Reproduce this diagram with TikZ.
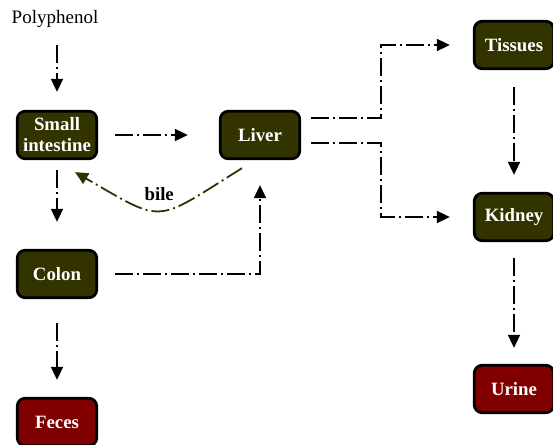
\documentclass[tikz,border=0pt]{standalone}
\usepackage{fontspec}
\setmainfont{Liberation Serif}
\usetikzlibrary{arrows.meta}
\definecolor{organfill}{HTML}{333300}
\definecolor{wastefill}{HTML}{800000}
\begin{document}
\begin{tikzpicture}[x=1pt,y=1pt,>={Triangle[length=13pt,width=12pt]},
    organ/.style={draw=black,line width=2.8pt,fill=organfill,rounded corners=8pt,
      minimum width=79.5pt,minimum height=47.5pt,text=white,align=center,
      font=\bfseries\fontsize{18.8}{21}\selectfont},
    waste/.style={organ,fill=wastefill},
    flow/.style={->,line width=1.8pt,dash pattern=on 18pt off 4pt on 2pt off 4pt}]
    \useasboundingbox (0,0) rectangle (553,444);
    \node[font=\fontsize{19}{21}\selectfont] (poly) at (55,425) {Polyphenol};
    \node[organ] (si) at (57,309) {Small\\intestine};
    \node[organ] (liver) at (260,309) {Liver};
    \node[organ] (colon) at (57,170) {Colon};
    \node[waste] (feces) at (57,22) {Feces};
    \node[organ] (tissues) at (514,399) {Tissues};
    \node[organ] (kidney) at (514,227) {Kidney};
    \node[waste] (urine) at (514,55) {Urine};
    \coordinate (split) at (381,309);
    \draw[flow,shorten <=14pt,shorten >=18pt] (poly.south -| si.north) -- (si.north);
    \draw[flow,shorten <=17pt,shorten >=31pt] (si) -- (liver);
    \draw[flow,shorten <=10pt,shorten >=27pt] (si) -- (colon);
    \draw[flow,shorten <=24pt,shorten >=17pt] (colon) -- (feces);
    \draw[flow] ([xshift=17pt]colon.east) -| ([yshift=-25pt]liver.south);
    \draw[flow,color=organfill] ([xshift=-18pt,yshift=-8pt]liver.south)
      to[out=212,in=-30,looseness=1.6]
      node[midway,above=6pt,text=black,font=\bfseries\fontsize{18.8}{21}\selectfont] (bilelabel) {bile}
      ([xshift=18pt,yshift=-12pt]si.south);
    \draw[flow] ([xshift=10pt,yshift=17pt]liver.east) -| (split |- tissues) -- ([xshift=-23pt]tissues.west);
    \draw[flow] ([xshift=10pt,yshift=-8pt]liver.east) -| (split |- kidney) -- ([xshift=-23pt]kidney.west);
    \draw[flow,shorten <=17pt,shorten >=17pt] (tissues) -- (kidney);
    \draw[flow,shorten <=16pt,shorten >=16pt] (kidney) -- (urine);
\end{tikzpicture}
\end{document}
